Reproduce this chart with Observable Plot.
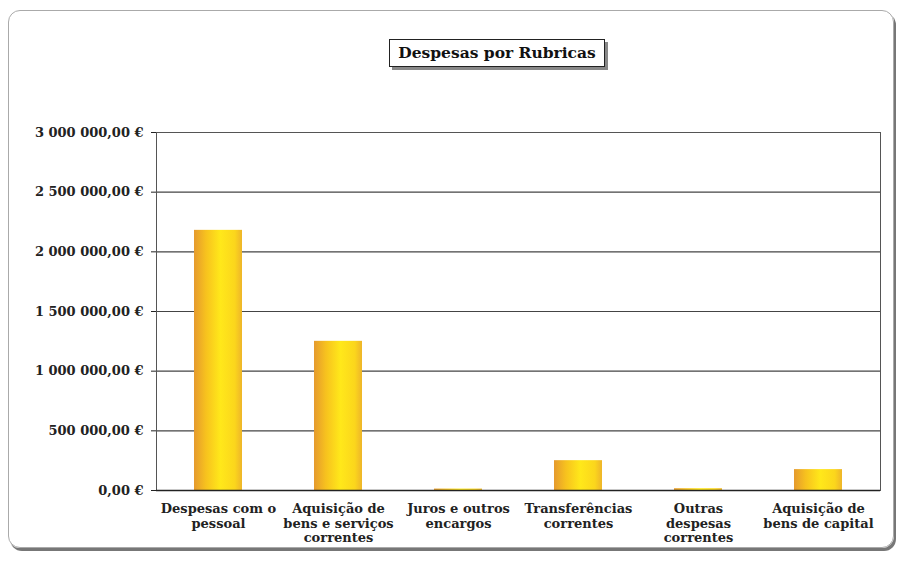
<!DOCTYPE html>
<html><head><meta charset="utf-8">
<script src="https://cdn.jsdelivr.net/npm/d3@7"></script>
<script src="https://cdn.jsdelivr.net/npm/@observablehq/plot@0.6"></script>
<style>
body{margin:0;background:#fff;width:902px;height:562px;overflow:hidden;position:relative;font-family:"DejaVu Serif",serif}
#frame{position:absolute;left:8px;top:10px;width:884px;height:536px;border:1px solid #aaa;border-radius:12px;box-shadow:2px 3px 0 #777}
#title{position:absolute;left:389px;top:39px;width:214px;height:26px;line-height:26px;text-align:center;border:1px solid #222;box-shadow:3px 3px 0 #888;font-weight:bold;font-size:15.5px;background:#fff;color:#111}
#chart{position:absolute;left:0;top:0}
</style></head><body>
<div id="frame"></div>
<div id="chart"></div>
<div id="title">Despesas por Rubricas</div>
<script>
const categories = [
  "Despesas com o\npessoal",
  "Aquisição de\nbens e serviços\ncorrentes",
  "Juros e outros\nencargos",
  "Transferências\ncorrentes",
  "Outras\ndespesas\ncorrentes",
  "Aquisição de\nbens de capital"
];
const values = [2180000, 1250000, 12000, 250000, 15000, 175000];
const yTicks = [0, 500000, 1000000, 1500000, 2000000, 2500000, 3000000];

const data = categories.map((c, i) => ({category: c, value: values[i]}));
const loc = d3.formatLocale({decimal: ",", thousands: " ", grouping: [3], currency: ["", " €"]});
const fmt = v => loc.format(",.2f")(v) + " €";

const svg = Plot.plot({
  width: 902,
  height: 562,
  marginTop: 132,
  marginBottom: 72,
  marginLeft: 156,
  marginRight: 22,
  style: {fontFamily: "'DejaVu Serif', serif", fontSize: "13px", fontWeight: "bold", color: "#222", background: "transparent"},
  x: {domain: categories, paddingInner: 0.6, paddingOuter: 0.3, label: null},
  y: {domain: [0, 3000000], label: null},
  marks: [
    Plot.gridY(yTicks, {stroke: "#444", strokeOpacity: 1, strokeWidth: 1.2}),
    Plot.frame({stroke: "#555", strokeWidth: 1}),
    Plot.barY(data, {x: "category", y: "value", fill: "url(#barGrad)"}),
    Plot.ruleY([0], {stroke: "#222", strokeWidth: 1.5}),
    Plot.axisY(yTicks, {tickFormat: fmt, tickSize: 5, tickPadding: 8, fontSize: 13, label: null}),
    Plot.axisX({tickSize: 0, tickPadding: 13, fontSize: 13, lineHeight: 1.08, label: null})
  ]
});

const s = d3.select(svg);
const g = s.insert("defs", ":first-child").append("linearGradient")
  .attr("id", "barGrad").attr("x1", "0").attr("x2", "1").attr("y1", "0").attr("y2", "0");
g.append("stop").attr("offset", "0%").attr("stop-color", "#e59a2e");
g.append("stop").attr("offset", "25%").attr("stop-color", "#f7c21e");
g.append("stop").attr("offset", "55%").attr("stop-color", "#ffe81a");
g.append("stop").attr("offset", "85%").attr("stop-color", "#fbd61c");
g.append("stop").attr("offset", "100%").attr("stop-color", "#eeb52a");
document.getElementById("chart").appendChild(svg);
</script>
</body></html>
